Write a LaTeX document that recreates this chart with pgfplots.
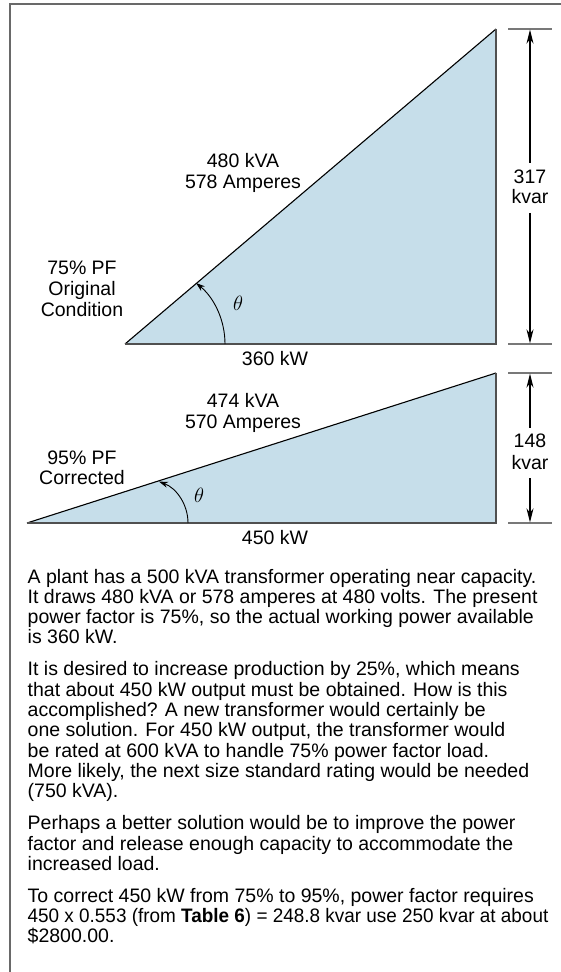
\documentclass[border=0pt]{standalone}
\usepackage{graphicx}
\usepackage{pgfplots}
\pgfplotsset{compat=1.18}
\usetikzlibrary{arrows.meta}
\usepackage{fontspec}
\setmainfont{Liberation Sans}
\definecolor{tri}{RGB}{198,222,234}
\definecolor{frame}{RGB}{105,105,105}
\definecolor{edge}{RGB}{80,80,80}
\definecolor{ext}{RGB}{120,120,120}
\newcommand{\tl}[3]{\node[anchor=base west,inner sep=0pt] at (axis cs:#1,#2) {#3};}
\newcommand{\cl}[3]{\node[anchor=base,inner sep=0pt] at (axis cs:#1,#2) {#3};}
\begin{document}
\begin{tikzpicture}
\fill[white] (0,0) rectangle (561bp,972bp);
\begin{axis}[at={(0,0)}, anchor=south west, scale only axis,
  width=561bp, height=972bp, xmin=0, xmax=561, ymin=0, ymax=972,
  y dir=reverse, hide axis, clip=false,
  every axis plot/.append style={line join=miter}]
\fontsize{19.5bp}{20.3bp}\selectfont
% frame
\addplot[frame, line width=2bp] coordinates {(9.5,972) (9.5,4.5) (561,4.5)};
% triangle 1 (360 kW, 317 kvar)
\addplot[fill=tri, draw=none] coordinates {(125,344) (496,344) (496,29)} -- cycle;
\addplot[black, line width=1.1bp] coordinates {(125,344) (496,29)};
\addplot[edge, line width=2bp] coordinates {(125,344) (496,344) (496,29)};
% triangle 2 (450 kW, 148 kvar)
\addplot[fill=tri, draw=none] coordinates {(27,523) (496,523) (496,373)} -- cycle;
\addplot[black, line width=1.1bp] coordinates {(27,523) (496,373)};
\addplot[edge, line width=2bp] coordinates {(27,523) (496,523) (496,373)};
% extension lines
\addplot[ext, line width=1.4bp] coordinates {(508,29) (552,29)};
\addplot[ext, line width=1.4bp] coordinates {(508,344) (552,344)};
\addplot[ext, line width=1.4bp] coordinates {(508,373) (552,373)};
\addplot[ext, line width=1.4bp] coordinates {(508,523) (552,523)};
% dimension lines
\draw[black, line width=1.1bp, {Stealth[length=14bp,width=7bp]}-] (axis cs:530,29.7) -- (axis cs:530,163);
\draw[black, line width=1.1bp, -{Stealth[length=14bp,width=7bp]}] (axis cs:530,213) -- (axis cs:530,343.3);
\draw[black, line width=1.1bp, {Stealth[length=14bp,width=7bp]}-] (axis cs:530,373.7) -- (axis cs:530,428);
\draw[black, line width=1.1bp, -{Stealth[length=14bp,width=7bp]}] (axis cs:530,478) -- (axis cs:530,522.3);
\cl{530}{184}{317}
\cl{530}{204}{kvar}
\cl{530}{447}{148}
\cl{530}{469}{kvar}
% angle arrows
\draw[black, line width=0.9bp, -{Stealth[length=9bp,width=6bp]}] (axis cs:225,344) arc[start angle=0, end angle=50.8, radius=78.7bp];
\draw[black, line width=0.9bp, -{Stealth[length=9bp,width=6bp]}] (axis cs:188,523) arc[start angle=0, end angle=70, radius=44bp];
\node[font=\fontsize{19bp}{20bp}\selectfont] at (axis cs:238,303) {$\theta$};
\node[font=\fontsize{19bp}{20bp}\selectfont] at (axis cs:199,495) {$\theta$};
% diagram labels
\cl{243}{168}{480 kVA}
\cl{243}{189}{578 Amperes}
\cl{82}{274}{75\% PF}
\cl{82}{295.5}{Original}
\cl{82}{316}{Condition}
\cl{275}{365}{360 kW}
\cl{243}{407}{474 kVA}
\cl{243}{428}{570 Amperes}
\cl{82}{464}{95\% PF}
\cl{82}{484.5}{Corrected}
\cl{275}{544}{450 kW}
% paragraphs
\tl{27.5}{583}{A plant has a 500 kVA transformer operating near capacity.}
\tl{27.5}{603.3}{It draws 480 kVA or 578 amperes at 480 volts. The present}
\tl{27.5}{623.6}{power factor is 75\%, so the actual working power available}
\tl{27.5}{643.9}{is 360 kW.}
\tl{27.5}{675.9}{It is desired to increase production by 25\%, which means}
\tl{27.5}{696.2}{that about 450 kW output must be obtained. How is this}
\tl{27.5}{716.5}{accomplished? A new transformer would certainly be}
\tl{27.5}{736.8}{one solution. For 450 kW output, the transformer would}
\tl{27.5}{757.1}{be rated at 600 kVA to handle 75\% power factor load.}
\tl{27.5}{777.4}{More likely, the next size standard rating would be needed}
\tl{27.5}{797.7}{(750 kVA).}
\tl{27.5}{829.7}{Perhaps a better solution would be to improve the power}
\tl{27.5}{850}{factor and release enough capacity to accommodate the}
\tl{27.5}{870.3}{increased load.}
\tl{27.5}{902.3}{To correct 450 kW from 75\% to 95\%, power factor requires}
\tl{27.5}{922.6}{\scalebox{0.97}[1]{450 x 0.553 (from \textbf{Table 6}) = 248.8 kvar use 250 kvar at about}}
\tl{27.5}{942.9}{\$2800.00.}
\end{axis}
\pgfresetboundingbox
\useasboundingbox (0,0) rectangle (561bp,972bp);
\end{tikzpicture}
\end{document}
